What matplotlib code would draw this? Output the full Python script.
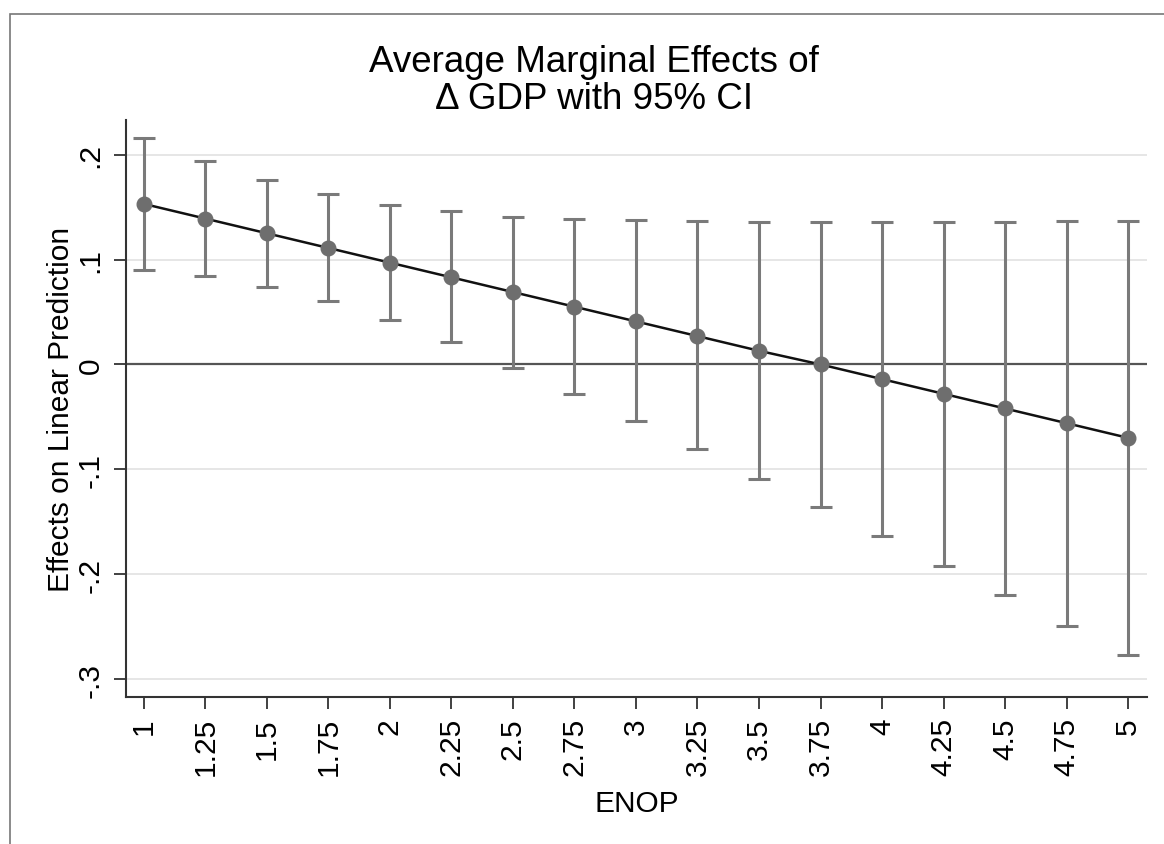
import matplotlib
matplotlib.use("Agg")
import matplotlib.pyplot as plt
from matplotlib.patches import Rectangle

plt.rcParams['font.family'] = ['Liberation Sans', 'DejaVu Sans']

# ENOP values and average marginal effects of delta GDP with 95% CI
enop = [1, 1.25, 1.5, 1.75, 2, 2.25, 2.5, 2.75, 3, 3.25, 3.5, 3.75, 4, 4.25, 4.5, 4.75, 5]
effect = [0.153, 0.139, 0.125, 0.111, 0.097, 0.083, 0.069, 0.055, 0.041, 0.027, 0.013,
          0.000, -0.014, -0.028, -0.042, -0.056, -0.070]
ci_upper = [0.216, 0.194, 0.176, 0.162, 0.152, 0.146, 0.141, 0.139, 0.138, 0.137, 0.136,
            0.136, 0.136, 0.136, 0.136, 0.137, 0.137]
ci_lower = [0.090, 0.084, 0.074, 0.060, 0.042, 0.021, -0.003, -0.028, -0.054, -0.081, -0.109,
            -0.136, -0.164, -0.192, -0.220, -0.249, -0.277]
x_labels = ['1', '1.25', '1.5', '1.75', '2', '2.25', '2.5', '2.75', '3', '3.25', '3.5',
            '3.75', '4', '4.25', '4.5', '4.75', '5']
y_ticks = [-0.3, -0.2, -0.1, 0, 0.1, 0.2]
y_labels = ['-.3', '-.2', '-.1', '0', '.1', '.2']

fig = plt.figure(figsize=(11.64, 8.45), dpi=100)
ax = fig.add_axes([0.1082, 0.1740, 0.8772, 0.6828])

# outer frame (clipped at right/bottom like the scan)
fig.patches.append(Rectangle((10 / 1164, -0.05), 1.2, 1 - 15 / 845 + 0.05,
                             transform=fig.transFigure, fill=False,
                             edgecolor='#777777', linewidth=1.2))

for yt in y_ticks:
    ax.axhline(yt, color='#e4e4e4', linewidth=1.3, zorder=0)
ax.axhline(0, color='#555555', linewidth=1.6, zorder=1)

err_low = [e - l for e, l in zip(effect, ci_lower)]
err_up = [u - e for e, u in zip(effect, ci_upper)]
ax.errorbar(enop, effect, yerr=[err_low, err_up], fmt='none', ecolor='#7a7a7a',
            elinewidth=2.2, capsize=8, capthick=2.2, zorder=2)
ax.plot(enop, effect, color='#111111', linewidth=1.8, zorder=3)
ax.plot(enop, effect, 'o', color='#6e6e6e', markersize=10.5, zorder=4)

ax.set_xlim(0.927, 5.077)
ax.set_ylim(-0.317, 0.233)
ax.set_xticks(enop)
ax.set_xticklabels(x_labels, rotation=90, fontsize=21.5)
ax.set_yticks(y_ticks)
ax.set_yticklabels(y_labels, rotation=90, fontsize=21.5, va='center')
ax.tick_params(axis='both', length=8.5, width=1.3, color='#333333')
ax.tick_params(axis='x', pad=6)
ax.tick_params(axis='y', pad=7)

for s in ['top', 'right']:
    ax.spines[s].set_visible(False)
for s in ['left', 'bottom']:
    ax.spines[s].set_linewidth(1.5)
    ax.spines[s].set_color('#333333')

ax.set_xlabel('ENOP', fontsize=21.5, labelpad=10)
ax.set_ylabel('Effects on Linear Prediction', fontsize=21.5, labelpad=1)

fig.text(594 / 1164, 1 - 81 / 845, 'Average Marginal Effects of\n\u0394 GDP with 95% CI',
         ha='center', va='center', fontsize=26.5, linespacing=1.1)

fig.savefig('out.png', dpi=100, facecolor='white')
